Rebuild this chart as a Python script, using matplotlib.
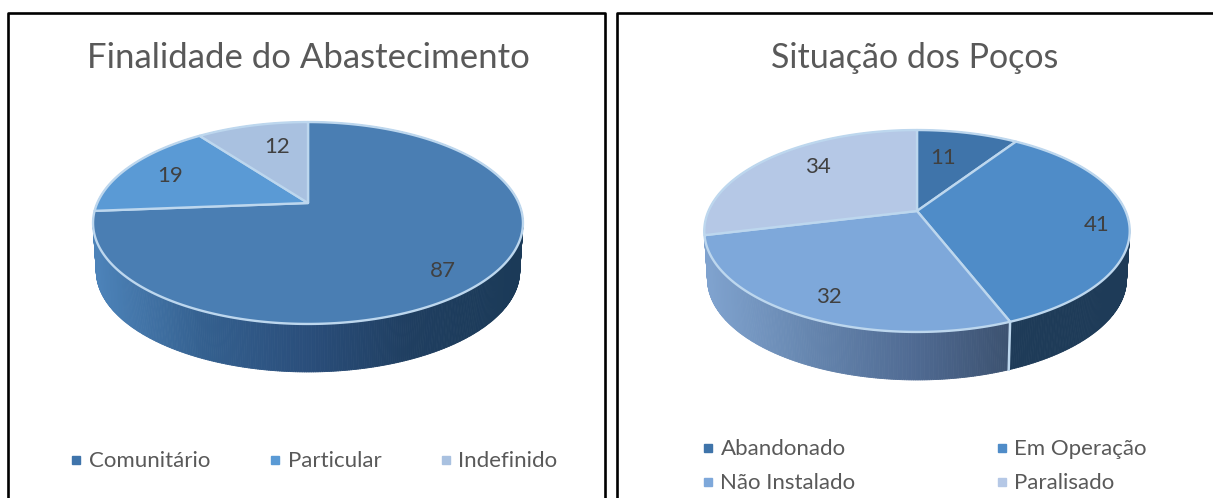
import numpy as np
import matplotlib
matplotlib.use("Agg")
import matplotlib.pyplot as plt
from matplotlib.collections import PolyCollection
from matplotlib.colors import LinearSegmentedColormap
from matplotlib.patches import Polygon

plt.rcParams['font.family'] = ['Lato', 'DejaVu Sans']

# left chart
titulo1 = "Finalidade do Abastecimento"
nomes1 = ["Comunitário", "Particular", "Indefinido"]
valores1 = [87, 19, 12]
cores1 = ["#4A7EB3", "#5A9AD5", "#A9C1E0"]
legenda1 = ["#3F74AB", "#5A9AD5", "#A9C1E0"]

# right chart
titulo2 = "Situação dos Poços"
nomes2 = ["Abandonado", "Em Operação", "Não Instalado", "Paralisado"]
valores2 = [11, 41, 32, 34]
cores2 = ["#3F74AA", "#4F8CC8", "#7EA8DA", "#B5C8E6"]

# side wall shading, left to right across the pie
paredes1 = [["#4C82B8", "#34608F", "#2A4E7B", "#1F3E60", "#1B3A58"],
            ["#4C82B8", "#34608F"],
            ["#4C82B8", "#34608F"]]
paredes2 = [["#1E3B58", "#1E3B58"],
            ["#1E3B58", "#1E3B58"],
            ["#7FA2CE", "#6585AE", "#4F6A92", "#3A4F6C", "#2C405A"],
            ["#7FA2CE", "#7FA2CE"]]

BORDA = "#BDD7EE"
TEXTO = "#595959"
ROTULO = "#404040"

RY = 97.0
K = 0.198
ALTURA = 48


def projeta(u, v, cx, cy, rx):
    # circle seen in perspective, the far side is shrunk
    w = 1 + K * v
    return cx + rx * u / w, cy - RY * v / w


def aro(a0, a1, cx, cy, rx):
    t = np.radians(np.linspace(a0, a1, max(int(a1 - a0) * 2, 2) + 1))
    return projeta(np.sin(t), np.cos(t), cx, cy, rx)


def desenha_pizza(ax, valores, cores, paredes, cx, cy, rx, ajustes):
    angs = np.cumsum([0] + list(valores)) / sum(valores) * 360

    # walls first, so the top covers whatever is at the back
    for i in range(len(valores)):
        x, y = aro(angs[i], angs[i + 1], cx, cy, rx)
        xb = cx + (x - cx) * 0.985
        yb = y + ALTURA
        cmap = LinearSegmentedColormap.from_list("p", paredes[i])
        polys = []
        tons = []
        for j in range(len(x) - 1):
            polys.append([(x[j], y[j]), (x[j + 1], y[j + 1]),
                          (xb[j + 1], yb[j + 1]), (xb[j], yb[j])])
            tons.append(cmap((x[j] - (cx - rx)) / (2 * rx)))
        ax.add_collection(PolyCollection(polys, facecolors=tons, edgecolors=tons, linewidths=0.6, zorder=2))

    # light line where two walls meet at the front
    for a in angs[1:-1]:
        if 100 < a < 250:
            x, y = aro(a, a + 0.01, cx, cy, rx)
            ax.plot([x[0], cx + (x[0] - cx) * 0.985], [y[0], y[0] + ALTURA],
                    color=BORDA, lw=1.8, zorder=3)

    for i in range(len(valores)):
        x, y = aro(angs[i], angs[i + 1], cx, cy, rx)
        pts = np.column_stack([np.r_[cx, x], np.r_[cy, y]])
        ax.add_patch(Polygon(pts, closed=True, facecolor=cores[i], edgecolor=BORDA,
                             linewidth=1.7, joinstyle="round", zorder=4))

    for i, val in enumerate(valores):
        r, da = ajustes[i]
        t = np.radians((angs[i] + angs[i + 1]) / 2 + da)
        x, y = projeta(r * np.sin(t), r * np.cos(t), cx, cy, rx)
        ax.text(x, y + 1, str(val), ha="center", va="center", fontsize=16, color=ROTULO, zorder=5)


def legenda(ax, nomes, cores, xs, ys):
    for n, c, x, y in zip(nomes, cores, xs, ys):
        ax.plot([x], [y], marker="s", ms=5.5, color=c, ls="none", zorder=5)
        ax.text(x + 12.5, y + 1, n, ha="left", va="center", fontsize=16, color=TEXTO, zorder=5)


fig = plt.figure(figsize=(12.13, 4.98), dpi=100)
ax = fig.add_axes([0, 0, 1, 1])
ax.set_xlim(0, 1213)
ax.set_ylim(498, 0)
ax.axis("off")

# panel frames run off the bottom and the right of the picture
ax.plot([7.5, 7.5, 605, 605], [498, 12.5, 12.5, 498], color="black", lw=1.9, zorder=1)
ax.plot([617, 617, 1213], [498, 12.5, 12.5], color="black", lw=1.9, zorder=1)

ax.text(308, 58, titulo1, ha="center", va="center", fontsize=25, color=TEXTO)
ax.text(915, 58, titulo2, ha="center", va="center", fontsize=24.5, color=TEXTO)

desenha_pizza(ax, valores1, cores1, paredes1, 308, 203, 210.7,
              [(0.83, 4.4), (0.76, -0.8), (0.69, 4.3)])
desenha_pizza(ax, valores2, cores2, paredes2, 917, 211, 208.5,
              [(0.64, -4.3), (0.85, 2.8), (0.83, -1.9), (0.73, 6.2)])

legenda(ax, nomes1, legenda1, [76, 275, 446], [460, 460, 460])
legenda(ax, nomes2, cores2, [708, 1001.5, 708, 1001.5], [448, 448, 482, 482])

fig.savefig("out.png", dpi=100)
